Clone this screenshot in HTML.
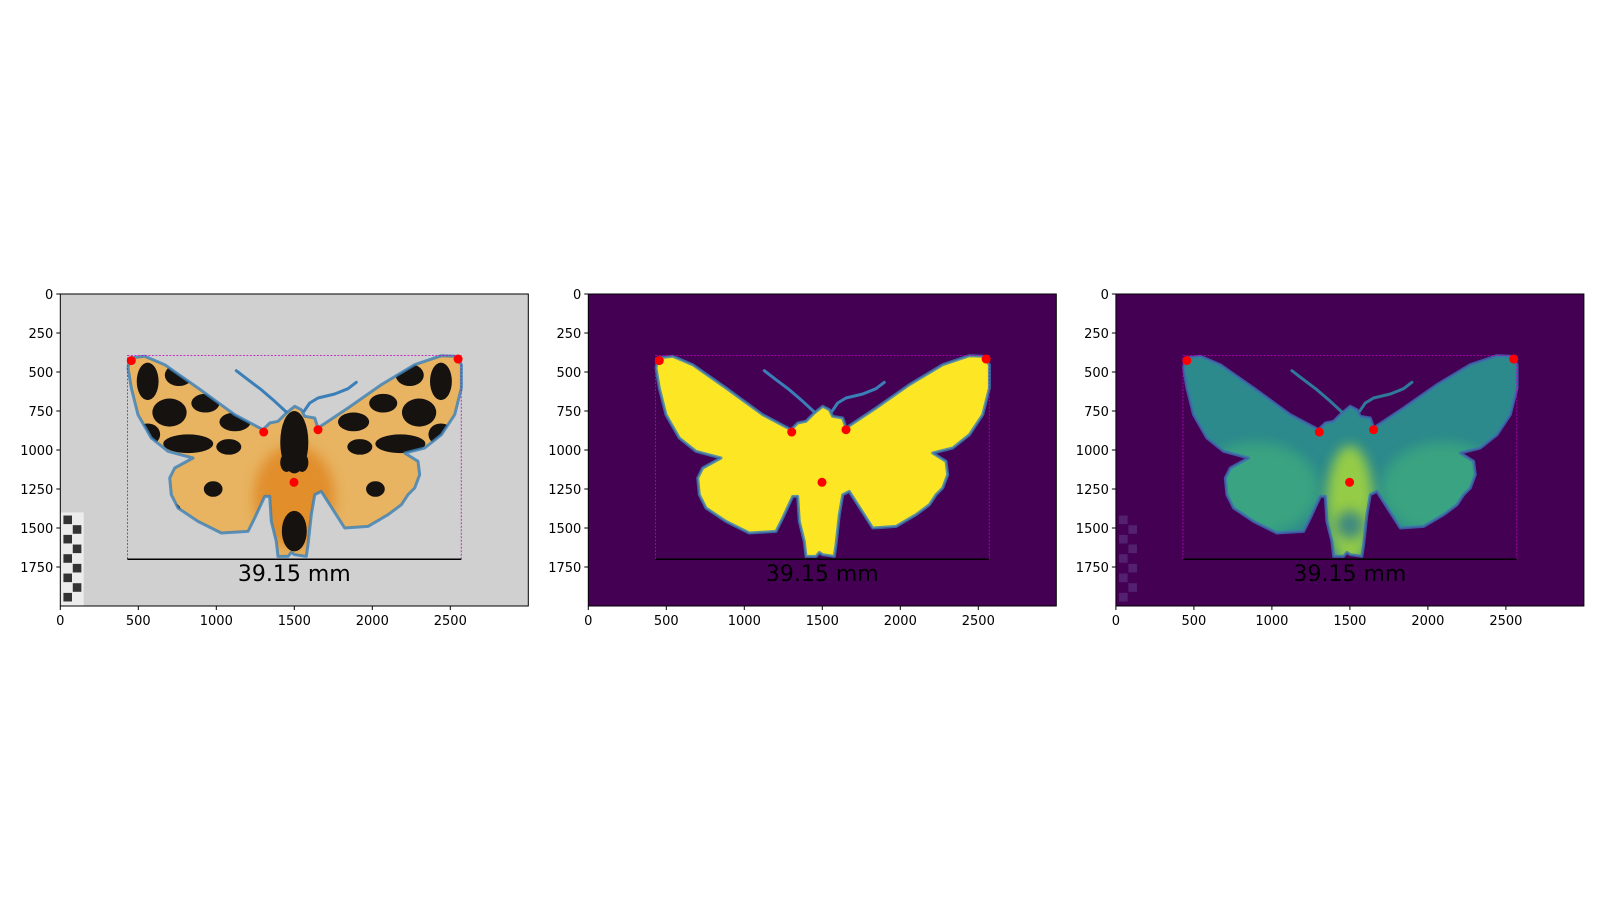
<!DOCTYPE html>
<html><head><meta charset="utf-8"><style>
html,body{margin:0;padding:0;background:#fff;}
svg{display:block;font-family:"DejaVu Sans","Liberation Sans",sans-serif;}
</style></head><body>
<svg id="fig" width="1600" height="900" viewBox="0 0 1600 900" xmlns="http://www.w3.org/2000/svg"></svg>
<script>
// ---- data ----
const imgW = 3000, imgH = 2000;
const xTicks = [0, 500, 1000, 1500, 2000, 2500];
const yTicks = [0, 250, 500, 750, 1000, 1250, 1500, 1750];
const bboxX = [430, 2570];
const bboxY = [395, 1700];
const ptX = [455, 2550, 1304, 1652, 1498];
const ptY = [427, 417, 885, 870, 1207];
const labelText = "39.15 mm";
const labelX = 1500, labelY = 1790;
// outline traced (reference-sampled units, converted to data below)
const olU = [245,290,350,450,560,645,665,690,715,740,760,770,800,810,900,1000,1100,1180,1220,1240,1240,1220,1180,1130,1070,1110,1115,1100,1080,1060,1020,960,890,820,800,790,780,775,740,730,720,690,685,670,665,650,620,600,520,450,390,370,365,380,435,360,310,270,250,240];
const olV = [210,205,230,300,380,425,405,400,375,355,365,385,390,420,360,290,230,203,205,230,300,380,440,480,495,520,560,600,620,650,680,715,720,610,620,680,770,805,800,793,805,805,760,700,625,625,690,730,735,700,660,620,570,540,510,490,450,380,300,240];
const antLU = [565,600,640,680,715], antLV = [248,275,305,340,372];
const antRU = [925,900,860,810,785,768], antRV = [283,302,318,330,345,370];
const toDX = u => u*2.137 - 79, toDY = v => v*2.137 - 38.5;

const NS = "http://www.w3.org/2000/svg";
const svg = document.getElementById('fig');
function mk(tag, attrs, parent){
  const e = document.createElementNS(NS, tag);
  for (const k in attrs) e.setAttribute(k, attrs[k]);
  (parent||svg).appendChild(e); return e;
}
const panelsLeft = [60.3, 588.3, 1115.9];
const top0 = 294, sc = 0.156;
const defs = mk('defs', {});
const blur = mk('filter', {id:'soft', x:'-50%', y:'-50%', width:'200%', height:'200%'}, defs);
mk('feGaussianBlur', {stdDeviation: 6}, blur);

function outlinePath(sx, sy){
  let d = '';
  for (let i=0;i<olU.length;i++) d += (i?'L':'M') + sx(toDX(olU[i])).toFixed(1) + ',' + sy(toDY(olV[i])).toFixed(1);
  return d + 'Z';
}
function linePath(U,V,sx,sy){
  let d='';
  for (let i=0;i<U.length;i++) d += (i?'L':'M') + sx(toDX(U[i])).toFixed(1)+','+sy(toDY(V[i])).toFixed(1);
  return d;
}

panelsLeft.forEach((L, p) => {
  const sx = x => L + x*sc, sy = y => top0 + y*sc;
  const W = imgW*sc, H = imgH*sc;
  const g = mk('g', {});
  
  
  const cid = 'clip'+p;
  const cp = mk('clipPath', {id: cid}, defs);
  mk('rect', {x:L, y:top0, width:W, height:H}, cp);
  const img = mk('g', {'clip-path':'url(#'+cid+')'}, g);
  const bg = ['#d0d0d0', '#440154', '#440154'][p];
  const bgr = mk('rect', {x:L, y:top0, width:W, height:H, fill:bg}, img);
  
  
  const op = outlinePath(sx, sy);
  if (p !== 1) {
    const cg = mk('g', {opacity: p===0 ? 1 : 0.25}, img);
    
    
    if (p===0) mk('rect', {x:sx(0), y:sy(1400), width:150*sc, height:600*sc, fill:'#ececec'}, cg);
    for (let r=0;r<9;r++){
      const cx = r%2 ? 80 : 20;
      mk('rect', {x:sx(cx), y:sy(1420 + r*62), width:55*sc, height:55*sc, fill: p===0?'#333':'#8080c0'}, cg);
    }
  }
  const mothClip = 'mclip'+p;
  const mcp = mk('clipPath', {id: mothClip}, defs);
  mk('path', {d: op}, mcp);
  const fill = ['#e8b462', '#fde725', '#2c8a8c'][p];
  const moth = mk('path', {d: op, fill: fill}, img);
  
  
  const inner = mk('g', {'clip-path':'url(#'+mothClip+')'}, img);
  if (p===0) {
    mk('ellipse',{cx:sx(1500),cy:sy(1300),rx:260*sc,ry:330*sc,fill:'#e08a28',opacity:0.9,filter:'url(#soft)'}, inner);
    const spots = [[560,560,70,120],[760,520,90,70],[700,760,110,90],[930,700,90,60],[1120,820,100,60],[820,960,160,60],[1080,980,80,50],[560,900,80,70],
                   [2440,560,70,120],[2240,520,90,70],[2300,760,110,90],[2070,700,90,60],[1880,820,100,60],[2180,960,160,60],[1920,980,80,50],[2440,900,80,70],
                   [1500,950,90,200],[1500,1520,80,130],[980,1250,60,50],[2020,1250,60,50],[720,1380,50,40],[2280,1380,50,40],[1450,1080,40,60],[1550,1080,40,60]];
    spots.forEach(s => mk('ellipse',{cx:sx(s[0]),cy:sy(s[1]),rx:s[2]*sc,ry:s[3]*sc,fill:'#151210'}, inner));
  }
  if (p===2) {
    mk('ellipse',{cx:sx(900),cy:sy(1250),rx:400*sc,ry:300*sc,fill:'#3fae7c',opacity:0.7,filter:'url(#soft)'}, inner);
    mk('ellipse',{cx:sx(2100),cy:sy(1250),rx:400*sc,ry:300*sc,fill:'#3fae7c',opacity:0.7,filter:'url(#soft)'}, inner);
    mk('ellipse',{cx:sx(1500),cy:sy(1350),rx:150*sc,ry:380*sc,fill:'#a8d83a',opacity:0.85,filter:'url(#soft)'}, inner);
    mk('ellipse',{cx:sx(1500),cy:sy(1480),rx:90*sc,ry:90*sc,fill:'#2a788e',opacity:0.8,filter:'url(#soft)'}, inner);
  }
  const stroke = p===2 ? '#3d6fb0' : '#3a7fb8';
  const ol = mk('path', {d: op, fill:'none', stroke: stroke, 'stroke-width': 3, 'stroke-opacity':0.8, 'stroke-linejoin':'round'}, img);
  
  
  const antC = p===2 ? '#2f7a9a' : '#3a7fb8';
  const a1 = mk('path', {d: linePath(antLU,antLV,sx,sy), fill:'none', stroke:antC, 'stroke-width':3, 'stroke-linecap':'round', 'stroke-linejoin':'round'}, img);
  
  
  const a2 = mk('path', {d: linePath(antRU,antRV,sx,sy), fill:'none', stroke:antC, 'stroke-width':3, 'stroke-linecap':'round', 'stroke-linejoin':'round'}, img);
  
  
  const bb = mk('rect', {x:sx(bboxX[0]), y:sy(bboxY[0]), width:(bboxX[1]-bboxX[0])*sc, height:(bboxY[1]-bboxY[0])*sc, fill:'none', stroke:'#c000c0', 'stroke-width':0.8, 'stroke-dasharray':'2,1.5'}, g);
  
  
  const ml = mk('line', {x1:sx(bboxX[0]), x2:sx(bboxX[1]), y1:sy(bboxY[1]), y2:sy(bboxY[1]), stroke:'#000', 'stroke-width':1.5}, g);
  
  
  for (let i=0;i<ptX.length;i++){
    const c = mk('circle', {cx:sx(ptX[i]), cy:sy(ptY[i]), r:4.5, fill:'#ff0000'}, g);
    
    
  }
  const t = mk('text', {x:sx(labelX), y:sy(labelY)+8, 'text-anchor':'middle', 'font-size':22, fill:'#000'}, g);
  t.textContent = labelText;
  
  
  const fr = mk('rect', {x:L, y:top0, width:W, height:H, fill:'none', stroke:'#000', 'stroke-width':1}, g);
  
  
  xTicks.forEach(v => {
    mk('line', {x1:sx(v), x2:sx(v), y1:top0+H, y2:top0+H+4, stroke:'#000'}, g);
    const tt = mk('text', {x:sx(v), y:top0+H+19, 'text-anchor':'middle', 'font-size':13}, g);
    tt.textContent = v;
    
    
  });
  yTicks.forEach(v => {
    mk('line', {x1:L-4, x2:L, y1:sy(v), y2:sy(v), stroke:'#000'}, g);
    const tt = mk('text', {x:L-7, y:sy(v)+5, 'text-anchor':'end', 'font-size':13}, g);
    tt.textContent = v;
    
    
  });
});
</script>
</body></html>
